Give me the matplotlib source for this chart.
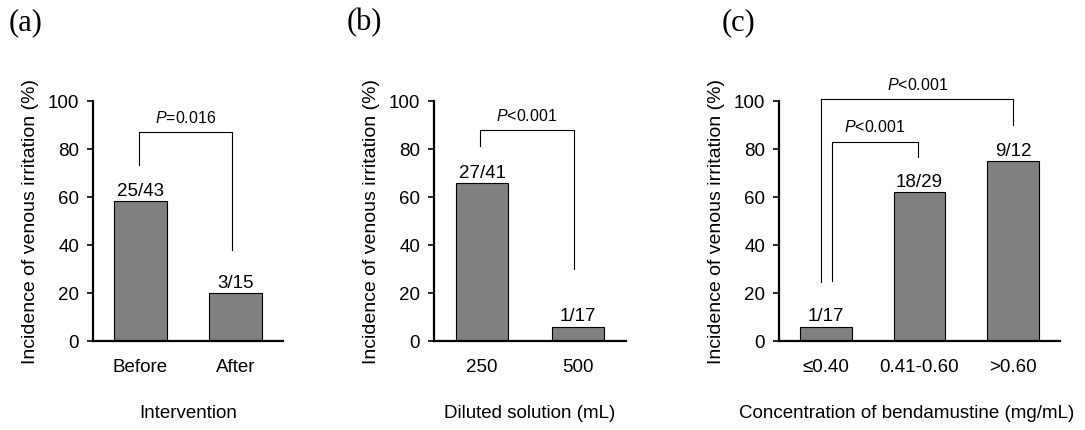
import numpy as np
import matplotlib.pyplot as plt

plt.rcParams['font.family'] = ['Liberation Sans', 'DejaVu Sans']
plt.rcParams['mathtext.fontset'] = 'custom'
plt.rcParams['mathtext.it'] = 'Liberation Sans:italic'
plt.rcParams['mathtext.rm'] = 'Liberation Sans'

# (a) intervention
a_cats = ['Before', 'After']
a_events = [25, 3]
a_totals = [43, 15]

# (b) diluted solution volume
b_cats = ['250', '500']
b_events = [27, 1]
b_totals = [41, 17]

# (c) bendamustine concentration
c_cats = ['≤0.40', '0.41-0.60', '>0.60']
c_events = [1, 18, 9]
c_totals = [17, 29, 12]

# significance brackets: (x left, x right, y left, y top, y right, label)
a_brackets = [(-0.02, 0.96, 73.3, 86.9, 37.9, '$\\it{P}$=0.016')]
b_brackets = [(-0.02, 0.96, 81.4, 87.9, 29.9, '$\\it{P}$<0.001')]
c_brackets = [(-0.05, 2.0, 24.7, 100.7, 89.9, '$\\it{P}$<0.001'),
              (0.07, 0.98, 25.0, 83.0, 76.8, '$\\it{P}$<0.001')]

fig = plt.figure(figsize=(10.85, 4.3), dpi=100)

def panel(rect, cats, events, totals, brackets, xlabel, tag, tag_x, xlabel_x=0.5):
    ax = fig.add_axes(rect)
    x = np.arange(len(cats))
    pct = np.array(events) / np.array(totals) * 100
    ax.bar(x, pct, width=0.55, color='#808080', edgecolor='black', linewidth=0.8)
    for xi, p, n, t in zip(x, pct, events, totals):
        ax.annotate(f'{n}/{t}', (xi, p), xytext=(0, 1), textcoords='offset points',
                    ha='center', va='bottom', fontsize=13.5)
    for xl, xr, yl, yt, yr, lab in brackets:
        ax.plot([xl, xl, xr, xr], [yl, yt, yt, yr], color='black', lw=0.8, clip_on=False)
        ax.text((xl + xr) / 2, yt + 6, lab, ha='center', va='center', fontsize=11.5, clip_on=False)
    ax.set_xlim(-0.5, len(cats) - 0.5)
    ax.set_ylim(0, 100)
    ax.set_yticks([0, 20, 40, 60, 80, 100])
    ax.set_xticks(x)
    ax.set_xticklabels(cats)
    ax.spines['top'].set_visible(False)
    ax.spines['right'].set_visible(False)
    ax.spines['left'].set_linewidth(1.6)
    ax.spines['bottom'].set_linewidth(1.6)
    ax.tick_params(axis='y', length=4, width=1.2, pad=6, labelsize=13.5)
    ax.tick_params(axis='x', length=0, pad=13, labelsize=13.5)
    ax.set_xlabel(xlabel, fontsize=13.5, labelpad=21)
    ax.xaxis.label.set_x(xlabel_x)
    ax.set_ylabel('Incidence of venous irritation (%)', fontsize=14, labelpad=6)
    fig.text(tag_x, 0.948, tag, family='Liberation Serif', fontsize=22, va='center', ha='left')
    return ax

panel([93 / 1085, 89 / 430, 190 / 1085, 240 / 430], a_cats, a_events, a_totals,
      a_brackets, 'Intervention', '(a)', 9 / 1085)
panel([434 / 1085, 89 / 430, 192 / 1085, 240 / 430], b_cats, b_events, b_totals,
      b_brackets, 'Diluted solution (mL)', '(b)', 347 / 1085)
panel([779 / 1085, 89 / 430, 281 / 1085, 240 / 430], c_cats, c_events, c_totals,
      c_brackets, 'Concentration of bendamustine (mg/mL)', '(c)', 722 / 1085,
      xlabel_x=0.455)

fig.savefig('out.png', dpi=100)
